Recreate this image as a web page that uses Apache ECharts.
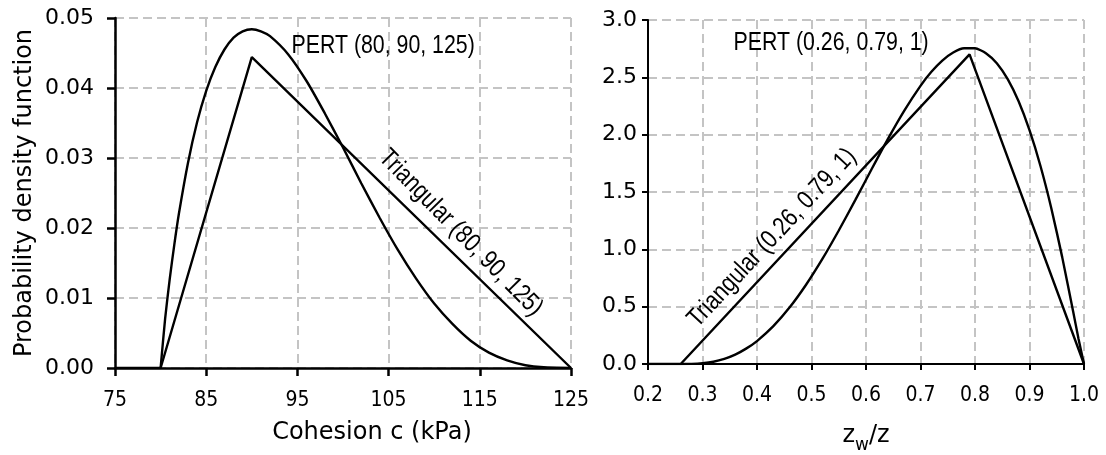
<!DOCTYPE html>
<html>
<head>
<meta charset="utf-8">
<script src="https://cdn.jsdelivr.net/npm/echarts@6/dist/echarts.min.js"></script>
<style>
  html, body { margin: 0; background: #fff; }
  #main { width: 1106px; height: 455px; }
</style>
</head>
<body>
<div id="main"></div>
<script>
// left panel: cohesion c (kPa)
const cohX = [80, 80.5, 81, 81.5, 82, 83, 84, 85, 86, 87, 88, 89, 90, 91, 92, 94, 96, 98, 100,
              102, 104, 106, 108, 110, 112, 114, 116, 118, 120, 122, 125];
const cohPert = [0, 0.0071, 0.0127, 0.0176, 0.0220, 0.0293, 0.0351, 0.0396, 0.0430, 0.0455, 0.0472,
                 0.0481, 0.0484, 0.0481, 0.0474, 0.0448, 0.0410, 0.0364, 0.0315, 0.0264, 0.0215, 0.0169,
                 0.0128, 0.0092, 0.0063, 0.0039, 0.0022, 0.0011, 0.0004, 0.0001, 0];
const cohTriX = [75, 80, 90, 125];
const cohTri = [0, 0, 0.0444, 0];
const cohTicks = [75, 85, 95, 105, 115, 125];

// right panel: zw/z
const zwX = [0.26, 0.28, 0.30, 0.32, 0.34, 0.36, 0.38, 0.40, 0.43, 0.46, 0.49, 0.52, 0.55, 0.58,
             0.61, 0.64, 0.67, 0.70, 0.72, 0.74, 0.76, 0.78, 0.80, 0.82, 0.84, 0.86, 0.88, 0.90, 0.92,
             0.94, 0.96, 0.98, 0.99, 1.0];
const zwPert = [0, 0.001, 0.007, 0.020, 0.045, 0.082, 0.134, 0.200, 0.330, 0.494, 0.691, 0.916,
                1.164, 1.427, 1.696, 1.961, 2.208, 2.426, 2.548, 2.646, 2.716, 2.753, 2.753, 2.711,
                2.623, 2.484, 2.291, 2.039, 1.729, 1.359, 0.932, 0.460, 0.218, 0];
const zwTriX = [0.2, 0.26, 0.79, 1.0];
const zwTri = [0, 0, 2.70, 0];

// curve annotations: text, grid, anchor in data units, angle (deg)
const notes = [
    ['PERT (80, 90, 125)', 0, [104.4, 0.0460], 0],
    ['Triangular (80, 90, 125)', 0, [112.9, 0.0193], -45.5],
    ['PERT (0.26, 0.79, 1)', 1, [0.536, 2.80], 0],
    ['Triangular (0.26, 0.79, 1)', 1, [0.4275, 1.10], 47]
];

const condFont = 'DejaVu Sans Condensed, DejaVu Sans, sans-serif';
const axisFont = 'DejaVu Sans, sans-serif';

function pairs(xs, ys) {
    return xs.map((x, i) => [x, ys[i]]);
}

let chartDom = document.getElementById('main');
let myChart = echarts.init(chartDom);

const gridLine = { show: true, lineStyle: { color: '#c4c4c4', width: 2, type: [9, 5] } };
const axisL = { show: true, onZero: false, lineStyle: { color: '#000', width: 2.5 } };
const axisR = { show: true, onZero: false, lineStyle: { color: '#000', width: 2 } };
const tickL = { show: true, inside: false, length: 8, lineStyle: { color: '#000', width: 2.5 } };
const tickR = { show: true, inside: false, length: 6, lineStyle: { color: '#000', width: 2 } };
const curve = { color: '#000', width: 2.4 };

let option = {
    animation: false,
    grid: [
        { left: 115, top: 18, width: 456, height: 350, outerBoundsMode: 'none' },
        { left: 648, top: 20, width: 436, height: 344, outerBoundsMode: 'none' }
    ],
    xAxis: [{
        type: 'value', gridIndex: 0, min: 75, max: 125,
        name: 'Cohesion c (kPa)', nameLocation: 'middle', nameGap: 53,
        nameTextStyle: { fontFamily: axisFont, fontSize: 24, color: '#000', padding: [0, 0, 0, 58] },
        axisLine: axisL,
        axisTick: Object.assign({ customValues: cohTicks }, tickL),
        axisLabel: { customValues: cohTicks, margin: 22, color: '#000', fontFamily: condFont, fontSize: 21 },
        splitLine: gridLine
    }, {
        type: 'value', gridIndex: 1, min: 0.2, max: 1.0, interval: 0.1,
        name: '{a|z}{s|w}{a|/z}', nameLocation: 'middle', nameGap: 60,
        nameTextStyle: {
            color: '#000',
            rich: {
                a: { fontFamily: axisFont, fontSize: 24, lineHeight: 26, verticalAlign: 'top', color: '#000' },
                s: { fontFamily: axisFont, fontSize: 17, lineHeight: 17, padding: [17, 0, 0, 0], color: '#000' }
            }
        },
        axisLine: axisR,
        axisTick: tickR,
        axisLabel: { margin: 21, color: '#000', fontFamily: condFont, fontSize: 21, formatter: v => v.toFixed(1) },
        splitLine: gridLine
    }],
    yAxis: [{
        type: 'value', gridIndex: 0, min: 0, max: 0.05, interval: 0.01,
        name: 'Probability density function', nameLocation: 'middle', nameGap: 78,
        nameTextStyle: { fontFamily: axisFont, fontSize: 24, color: '#000' },
        axisLine: axisL,
        axisTick: tickL,
        axisLabel: { margin: 21, color: '#000', fontFamily: axisFont, fontSize: 22, formatter: v => v.toFixed(2) },
        splitLine: gridLine
    }, {
        type: 'value', gridIndex: 1, min: 0, max: 3, interval: 0.5,
        axisLine: axisR,
        axisTick: tickR,
        axisLabel: { margin: 11, color: '#000', fontFamily: axisFont, fontSize: 22, formatter: v => v.toFixed(1) },
        splitLine: gridLine
    }],
    series: [{
        name: 'PERT (80, 90, 125)',
        type: 'line', xAxisIndex: 0, yAxisIndex: 0,
        data: pairs(cohX, cohPert),
        showSymbol: false, smooth: 0.2, lineStyle: curve
    }, {
        name: 'Triangular (80, 90, 125)',
        type: 'line', xAxisIndex: 0, yAxisIndex: 0,
        data: pairs(cohTriX, cohTri),
        showSymbol: false, lineStyle: curve
    }, {
        name: 'PERT (0.26, 0.79, 1)',
        type: 'line', xAxisIndex: 1, yAxisIndex: 1,
        data: pairs(zwX, zwPert),
        showSymbol: false, smooth: 0.2, lineStyle: curve
    }, {
        name: 'Triangular (0.26, 0.79, 1)',
        type: 'line', xAxisIndex: 1, yAxisIndex: 1,
        data: pairs(zwTriX, zwTri),
        showSymbol: false, lineStyle: curve
    }]
};

option && myChart.setOption(option);

// narrow-looking annotation text placed on the data coordinates
myChart.setOption({
    graphic: notes.map(n => {
        const p = myChart.convertToPixel({ gridIndex: n[1] }, n[2]);
        return {
            type: 'text', x: p[0], y: p[1],
            rotation: n[3] * Math.PI / 180,
            scaleX: 0.82,
            style: {
                text: n[0], fill: '#000',
                font: '26px "Liberation Sans", Arial, sans-serif',
                align: 'center', verticalAlign: 'middle'
            }
        };
    })
});
</script>
</body>
</html>
